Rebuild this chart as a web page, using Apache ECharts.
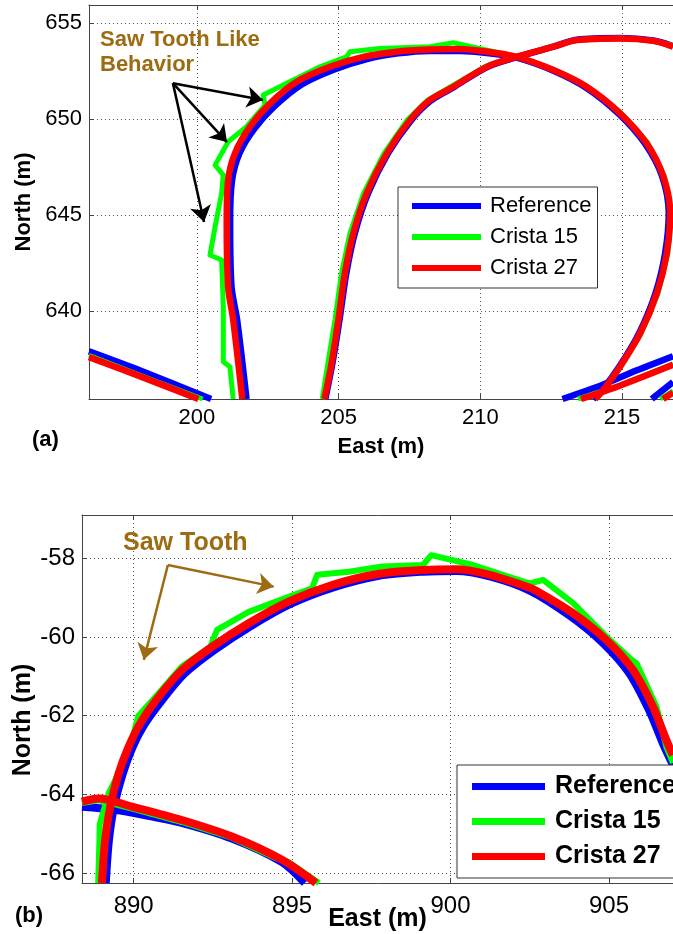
<!DOCTYPE html>
<html><head><meta charset="utf-8">
<script src="https://cdn.jsdelivr.net/npm/echarts@6/dist/echarts.min.js"></script>
<style>html,body{margin:0;padding:0;background:#fff}#c{width:673px;height:934px}</style>
</head><body><div id="c"></div>
<script>
// ---------- shared ----------
const seriesNames = ['Reference', 'Crista 15', 'Crista 27'];
const seriesColors = ['#0000ff', '#00ff00', '#ff0000'];

// ---------- panel (a) ----------
const aXTicks = [200, 205, 210, 215];
const aYTicks = [640, 645, 650, 655];
const aXRange = [196.19, 216.80];
const aYRange = [635.42, 655.94];

const aReference = [
  [[201.75,635.42],[201.42,639.53],[201.22,641.27],[201.17,644.74],[201.24,646.82],[201.50,648.21],[202.03,649.50],[202.75,650.68],[203.70,651.80],[204.85,652.58],[206.00,653.12],[207.10,653.42],[208.20,653.55],[209.30,653.55],[210.30,653.43],[211.28,653.20],[212.58,652.52],[213.75,651.62],[214.90,650.25],[215.82,648.70],[216.42,647.00],[216.65,645.09],[216.52,643.00],[216.18,640.92],[215.60,638.84],[214.90,637.10],[214.30,635.89],[213.98,635.42]],
  [[204.53,635.42],[204.78,637.27],[205.03,639.53],[205.27,641.96],[205.57,644.05],[206.04,646.13],[206.74,648.21],[207.55,649.92],[208.25,650.95],[209.05,651.65],[210.23,652.70],[211.28,653.22],[212.58,653.77],[213.40,654.13],[214.93,654.22],[216.11,654.09],[216.80,653.80]],
  [[196.19,637.90],[198.00,636.90],[200.50,635.42]],
  [[212.90,635.42],[214.30,636.15],[215.50,636.90],[216.80,637.65]],
  [[216.05,635.42],[216.80,636.30]]
];
const aCrista15 = [
  [[201.28,635.42],[201.16,637.10],[200.93,637.36],[200.93,640.23],[200.87,642.66],[200.46,642.92],[200.64,644.39],[200.87,646.13],[200.93,647.08],[200.64,647.60],[201.10,648.82],[201.75,649.60],[202.40,650.73],[202.34,651.25],[203.17,651.86],[204.34,652.72],[205.28,653.24],[205.40,653.51],[206.46,653.68],[208.22,653.77],[209.05,653.98],[210.20,653.60],[211.28,653.26],[212.58,652.58],[213.75,651.72],[214.95,650.35],[215.90,648.78],[216.50,647.00],[216.74,645.09],[216.62,643.00],[216.27,640.92],[215.68,638.84],[214.96,637.10],[214.36,635.89],[214.10,635.42]],
  [[204.42,635.42],[204.62,637.27],[204.87,639.53],[205.10,641.96],[205.40,644.05],[205.88,646.13],[206.60,648.21],[207.42,649.95],[208.15,651.00],[209.00,651.72],[210.20,652.76],[211.28,653.26],[212.58,653.79],[213.40,654.13],[214.93,654.22],[216.11,654.09],[216.80,653.82]],
  [[196.19,637.70],[198.00,636.65],[200.20,635.42]],
  [[213.45,635.42],[214.90,636.12],[216.80,637.25]],
  [[216.35,635.42],[216.80,635.85]]
];
const aCrista27 = [
  [[201.60,635.42],[201.28,639.53],[201.10,641.27],[201.05,644.74],[201.10,646.82],[201.34,648.21],[201.87,649.60],[202.58,650.82],[203.52,651.94],[204.69,652.72],[205.87,653.24],[207.05,653.51],[208.20,653.62],[209.20,653.65],[210.20,653.52],[211.28,653.24],[212.58,652.55],[213.75,651.68],[214.93,650.30],[215.87,648.73],[216.46,647.00],[216.70,645.09],[216.58,643.00],[216.23,640.92],[215.64,638.84],[214.93,637.10],[214.34,635.89],[214.05,635.42]],
  [[204.50,635.42],[204.75,637.27],[204.99,639.53],[205.22,641.96],[205.52,644.05],[205.99,646.13],[206.70,648.21],[207.52,649.95],[208.22,650.99],[209.05,651.68],[210.23,652.72],[211.28,653.24],[212.58,653.77],[213.40,654.11],[214.93,654.20],[216.11,654.07],[216.80,653.77]],
  [[196.19,637.60],[198.00,636.60],[200.05,635.42]],
  [[213.55,635.42],[214.90,636.10],[216.80,637.20]],
  [[216.45,635.42],[216.80,635.75]]
];
// arrows: [from, to]
const aArrows = [
  [[199.15,651.87],[202.33,650.99]],
  [[199.15,651.87],[201.06,648.80]],
  [[199.15,651.87],[200.25,644.64]]
];

// ---------- panel (b) ----------
const bXTicks = [890, 895, 900, 905];
const bYTicks = [-66, -64, -62, -60, -58];
const bXRange = [888.37, 907.02];
const bYRange = [-66.25, -56.90];

const bReference = [
  [[889.12,-66.25],[889.22,-65.16],[889.38,-64.31],[889.66,-63.46],[889.97,-62.79],[890.34,-62.22],[890.92,-61.58],[891.62,-60.92],[892.55,-60.33],[893.70,-59.72],[894.95,-59.16],[896.30,-58.74],[897.70,-58.45],[899.13,-58.34],[900.18,-58.32],[901.24,-58.46],[902.50,-58.82],[903.80,-59.48],[904.82,-60.16],[905.64,-60.92],[906.26,-61.85],[906.70,-62.70],[907.02,-63.25]],
  [[888.37,-64.31],[889.42,-64.39],[890.50,-64.55],[891.52,-64.72],[893.10,-65.12],[894.68,-65.72],[895.40,-66.25]]
];
const bCrista15 = [
  [[888.88,-66.25],[888.92,-65.20],[888.93,-64.75],[889.21,-63.97],[889.42,-63.63],[889.95,-62.60],[890.15,-62.00],[890.79,-61.43],[891.52,-60.75],[892.42,-60.25],[892.63,-59.82],[893.63,-59.36],[894.89,-58.98],[895.63,-58.76],[895.79,-58.42],[896.79,-58.34],[897.84,-58.21],[899.13,-58.17],[899.39,-57.92],[900.71,-58.17],[902.50,-58.64],[902.92,-58.55],[903.87,-59.14],[904.92,-59.99],[905.66,-60.54],[905.87,-60.67],[906.50,-61.77],[906.81,-62.79],[907.02,-63.20]],
  [[888.37,-64.22],[888.90,-64.15],[889.95,-64.36],[891.52,-64.70],[893.10,-65.10],[894.50,-65.62],[894.89,-65.72],[895.85,-66.25]]
];
const bCrista27 = [
  [[889.00,-66.25],[889.10,-65.16],[889.26,-64.31],[889.53,-63.46],[889.84,-62.79],[890.21,-62.19],[890.79,-61.52],[891.52,-60.84],[892.47,-60.25],[893.63,-59.65],[894.89,-59.10],[896.26,-58.68],[897.70,-58.40],[899.13,-58.30],[900.18,-58.28],[901.24,-58.42],[902.40,-58.72],[902.60,-58.78],[903.87,-59.40],[904.92,-60.08],[905.76,-60.84],[906.39,-61.77],[906.81,-62.62],[907.02,-63.00]],
  [[888.37,-64.18],[888.90,-64.10],[889.95,-64.31],[891.52,-64.65],[893.10,-65.07],[894.68,-65.66],[895.75,-66.25]]
];
const bArrows = [
  [[891.08,-58.17],[894.42,-58.72]],
  [[891.08,-58.17],[890.32,-60.58]]
];

// ---------- build ----------
const FONT = 'Arial, "Liberation Sans", Helvetica, sans-serif';
const BROWN = '#9c6b12';

function flatten(segments) {
  const out = [];
  segments.forEach((seg, i) => {
    if (i) out.push(['-', '-']);
    seg.forEach(p => out.push(p));
  });
  return out;
}

function xAxes(gridIndex, range, ticks, fontSize, labelMargin, name, nameGap, nameSize) {
  const common = {
    type: 'value', gridIndex, min: range[0], max: range[1],
    minInterval: 5, maxInterval: 5
  };
  return [
    Object.assign({}, common, {
      position: 'bottom',
      axisLine: { show: true, onZero: false, lineStyle: { color: '#444', width: 1 } },
      axisTick: { show: true, inside: true, length: 5, customValues: ticks, lineStyle: { color: '#444' } },
      axisLabel: { show: true, customValues: ticks, fontSize, fontFamily: FONT, color: '#000', margin: labelMargin },
      splitLine: { show: true, lineStyle: { type: [1, 3], color: '#555', width: 1 } },
      name, nameLocation: 'middle', nameGap, nameMoveOverlap: false,
      nameTextStyle: { fontSize: nameSize, fontWeight: 'bold', fontFamily: FONT, color: '#000' }
    }),
    Object.assign({}, common, {
      position: 'top',
      axisLine: { show: true, onZero: false, lineStyle: { color: '#444', width: 1 } },
      axisTick: { show: true, inside: true, length: 5, customValues: ticks, lineStyle: { color: '#444' } },
      axisLabel: { show: false },
      splitLine: { show: false }
    })
  ];
}

function yAxis(gridIndex, range, ticks, fontSize, name, nameGap, nameSize, namePadding, interval) {
  return {
    type: 'value', gridIndex, min: range[0], max: range[1],
    minInterval: interval, maxInterval: interval,
    position: 'left',
    axisLine: { show: true, onZero: false, lineStyle: { color: '#444', width: 1 } },
    axisTick: { show: true, inside: true, length: 5, customValues: ticks, lineStyle: { color: '#444' } },
    axisLabel: { show: true, customValues: ticks, fontSize, fontFamily: FONT, color: '#000', margin: 7 },
    splitLine: { show: true, lineStyle: { type: [1, 3], color: '#555', width: 1 } },
    name, nameLocation: 'middle', nameGap, nameRotate: 90, nameMoveOverlap: false,
    nameTextStyle: { fontSize: nameSize, fontWeight: 'bold', fontFamily: FONT, color: '#000', padding: namePadding }
  };
}

function lineSeries(name, color, data, xi, yi, width, z, smooth) {
  return {
    type: 'line', name, data: flatten(data), xAxisIndex: xi, yAxisIndex: yi,
    symbol: 'none', showSymbol: false, connectNulls: false, silent: true,
    animation: false, clip: true, z, smooth,
    itemStyle: { color },
    lineStyle: { color, width, cap: 'butt', join: 'round' }
  };
}

function arrowSeries(arrows, xi, yi, color) {
  return {
    type: 'line', name: 'annotation', data: [], xAxisIndex: xi, yAxisIndex: yi,
    silent: true, animation: false, z: 10,
    markLine: {
      silent: true, animation: false, symbol: ['none', 'arrow'], symbolSize: 16,
      label: { show: false }, emphasis: { disabled: true },
      lineStyle: { color, width: 2.5, type: 'solid' },
      data: arrows.map(a => [{ coord: a[0] }, { coord: a[1] }])
    }
  };
}

const aData = [aReference, aCrista15, aCrista27];
const bData = [bReference, bCrista15, bCrista27];
const aWidths = [6.5, 5, 6.5];
const bWidths = [8, 6, 8];
const smoothing = [0.3, 0, 0.3];

const series = [];
seriesNames.forEach((n, i) => series.push(lineSeries(n, seriesColors[i], aData[i], 0, 0, aWidths[i], 2 + i, smoothing[i])));
seriesNames.forEach((n, i) => series.push(lineSeries(n, seriesColors[i], bData[i], 2, 1, bWidths[i], 2 + i, smoothing[i])));
series.push(arrowSeries(aArrows, 0, 0, '#000'));
series.push(arrowSeries(bArrows, 2, 1, BROWN));

const option = {
  animation: false,
  backgroundColor: '#fff',
  grid: [
    { left: 89, top: 5, width: 584, height: 394, outerBoundsMode: 'none', containLabel: false },
    { left: 82, top: 515, width: 591, height: 368, outerBoundsMode: 'none', containLabel: false }
  ],
  xAxis: [
    ...xAxes(0, aXRange, aXTicks, 22, 8, 'East (m)', 37, 22),
    ...xAxes(1, bXRange, bXTicks, 24, 11, 'East (m)', 24, 25)
  ],
  yAxis: [
    yAxis(0, aYRange, aYTicks, 22, 'North (m)', 54, 22, 0, 5),
    yAxis(1, bYRange, bYTicks, 24, 'North (m)', 46, 25, [0, 42, 0, 0], 2)
  ],
  legend: [
    {
      data: seriesNames.map(n => ({ name: n, icon: 'rect' })),
      orient: 'vertical', left: 398, top: 187,
      itemWidth: 69, itemHeight: 6, itemGap: 9,
      padding: [8, 6, 9, 14],
      borderColor: '#333', borderWidth: 1, backgroundColor: '#fff',
      selectedMode: false, z: 20,
      itemStyle: { borderWidth: 0 },
      textStyle: { fontSize: 22, lineHeight: 22, fontFamily: FONT, color: '#000', padding: [0, 0, 0, 4] }
    },
    {
      data: seriesNames.map(n => ({ name: n, icon: 'rect' })),
      orient: 'vertical', left: 457, top: 765,
      itemWidth: 73, itemHeight: 7, itemGap: 10,
      padding: [9, 10, 9, 15],
      borderColor: '#333', borderWidth: 1, backgroundColor: '#fff',
      selectedMode: false, z: 20,
      itemStyle: { borderWidth: 0 },
      textStyle: { fontSize: 25, lineHeight: 25, fontWeight: 'bold', fontFamily: FONT, color: '#000', padding: [0, 0, 0, 5] }
    }
  ],
  graphic: [
    { type: 'text', left: 100, top: 27, z: 30,
      style: { text: 'Saw Tooth Like\nBehavior', fontSize: 22, fontWeight: 'bold', fontFamily: FONT, fill: BROWN, lineHeight: 25 } },
    { type: 'text', left: 123, top: 531, z: 30,
      style: { text: 'Saw Tooth', fontSize: 25, fontWeight: 'bold', fontFamily: FONT, fill: BROWN } },
    { type: 'text', left: 32, top: 429, z: 30,
      style: { text: '(a)', fontSize: 22, fontWeight: 'bold', fontFamily: FONT, fill: '#000' } },
    { type: 'text', left: 15, top: 905, z: 30,
      style: { text: '(b)', fontSize: 22, fontWeight: 'bold', fontFamily: FONT, fill: '#000' } }
  ],
  series
};

const chart = echarts.init(document.getElementById('c'), null, { renderer: 'canvas' });
chart.setOption(option);
</script>
</body></html>
